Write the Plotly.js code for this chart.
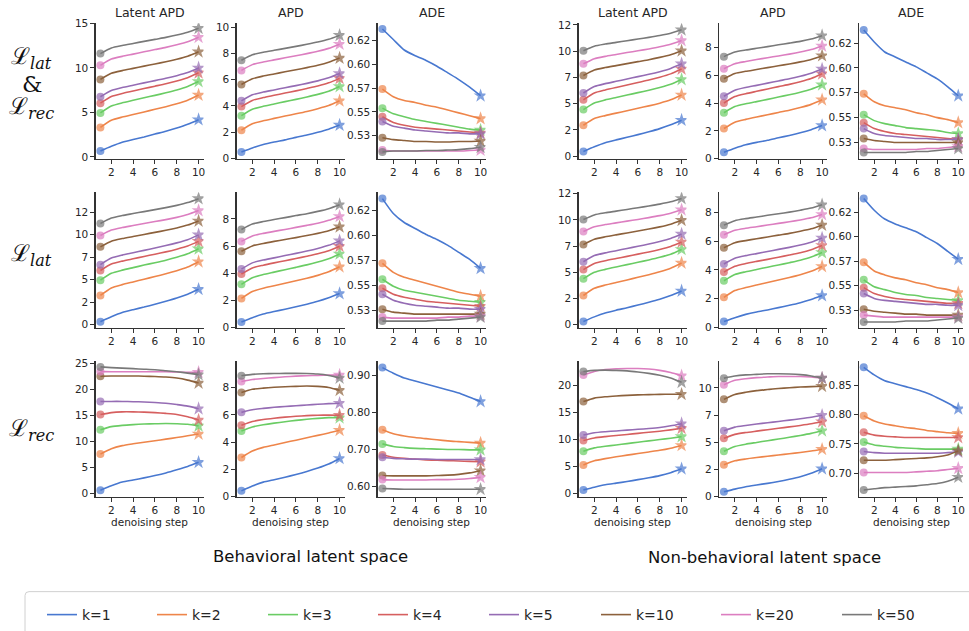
<!DOCTYPE html>
<html><head><meta charset="utf-8">
<script src="https://cdn.plot.ly/plotly-3.0.1.min.js"></script>
<style>html,body{margin:0;padding:0;background:#fff}#chart{width:969px;height:631px}</style>
</head><body><div id="chart"></div>
<script>
const steps = [1,2,3,4,5,6,7,8,9,10];
const kLabels = ['k=1','k=2','k=3','k=4','k=5','k=10','k=20','k=50'];
const colTitles = ['Latent APD','APD','ADE','Latent APD','APD','ADE'];
const groupTitles = ['Behavioral latent space','Non-behavioral latent space'];

// Row 1: L_lat & L_rec
const behLatAPD_LL = [
 [0.65,1.18,1.64,1.96,2.24,2.56,2.87,3.23,3.65,4.18],
 [3.31,4.11,4.47,4.76,5.05,5.34,5.63,5.96,6.36,6.94],
 [4.94,5.71,6.07,6.35,6.63,6.91,7.19,7.51,7.90,8.46],
 [6.03,6.78,7.12,7.39,7.67,7.94,8.21,8.52,8.89,9.44],
 [6.75,7.46,7.79,8.05,8.31,8.56,8.82,9.12,9.47,9.99],
 [8.70,9.38,9.69,9.94,10.19,10.44,10.68,10.96,11.30,11.80],
 [10.28,10.98,11.29,11.54,11.80,12.05,12.30,12.59,12.93,13.44],
 [11.60,12.23,12.51,12.74,12.97,13.20,13.42,13.68,14.00,14.45]];
const behAPD_LL = [
 [0.49,0.80,1.06,1.25,1.41,1.60,1.78,1.99,2.23,2.54],
 [2.15,2.64,2.87,3.05,3.23,3.40,3.58,3.79,4.03,4.39],
 [3.26,3.75,3.97,4.15,4.33,4.50,4.68,4.88,5.12,5.48],
 [3.95,4.42,4.64,4.81,4.98,5.15,5.33,5.52,5.76,6.10],
 [4.39,4.85,5.06,5.22,5.39,5.55,5.72,5.91,6.14,6.47],
 [5.63,6.07,6.28,6.44,6.60,6.76,6.92,7.10,7.33,7.65],
 [6.71,7.15,7.35,7.51,7.67,7.83,7.99,8.17,8.39,8.71],
 [7.48,7.90,8.09,8.24,8.39,8.54,8.70,8.87,9.08,9.38]];
const behADE_LL = [
 [0.637,0.626,0.615,0.609,0.604,0.598,0.591,0.584,0.576,0.567],
 [0.574,0.566,0.562,0.560,0.557,0.555,0.552,0.549,0.546,0.543],
 [0.554,0.548,0.545,0.542,0.540,0.538,0.536,0.534,0.532,0.531],
 [0.545,0.539,0.536,0.534,0.533,0.532,0.531,0.530,0.529,0.528],
 [0.540,0.535,0.533,0.531,0.530,0.529,0.528,0.528,0.527,0.527],
 [0.523,0.521,0.520,0.519,0.519,0.5185,0.5185,0.519,0.519,0.5195],
 [0.510,0.509,0.509,0.509,0.509,0.509,0.509,0.509,0.5095,0.510],
 [0.508,0.509,0.509,0.509,0.5095,0.5095,0.510,0.5105,0.5115,0.513]];
const nbLatAPD_LL = [
 [0.44,0.89,1.28,1.55,1.79,2.05,2.32,2.62,2.98,3.43],
 [2.94,3.58,3.86,4.10,4.33,4.56,4.79,5.05,5.37,5.83],
 [4.44,5.07,5.36,5.59,5.82,6.05,6.28,6.54,6.85,7.31],
 [5.37,6.02,6.31,6.55,6.78,7.02,7.25,7.52,7.84,8.31],
 [6.02,6.63,6.91,7.13,7.35,7.58,7.80,8.05,8.36,8.80],
 [7.69,8.21,8.44,8.63,8.82,9.01,9.19,9.41,9.66,10.04],
 [8.80,9.29,9.51,9.69,9.87,10.04,10.22,10.42,10.66,11.02],
 [10.04,10.48,10.68,10.84,11.00,11.16,11.32,11.50,11.72,12.04]];
const nbAPD_LL = [
 [0.46,0.75,1.00,1.17,1.32,1.50,1.67,1.86,2.09,2.38],
 [2.17,2.63,2.83,3.00,3.16,3.33,3.49,3.68,3.91,4.24],
 [3.31,3.75,3.95,4.11,4.27,4.44,4.60,4.78,5.00,5.32],
 [4.01,4.47,4.68,4.85,5.02,5.19,5.35,5.54,5.77,6.11],
 [4.50,4.93,5.13,5.28,5.44,5.60,5.75,5.93,6.15,6.46],
 [5.76,6.13,6.29,6.42,6.56,6.69,6.82,6.97,7.15,7.42],
 [6.48,6.84,7.00,7.14,7.27,7.40,7.53,7.68,7.86,8.12],
 [7.35,7.68,7.83,7.95,8.07,8.20,8.32,8.45,8.62,8.86]];
const nbADE_LL = [
 [0.638,0.626,0.616,0.611,0.606,0.601,0.595,0.589,0.581,0.572],
 [0.574,0.566,0.562,0.560,0.558,0.555,0.553,0.550,0.548,0.545],
 [0.553,0.547,0.544,0.542,0.540,0.539,0.538,0.537,0.535,0.534],
 [0.545,0.539,0.536,0.534,0.533,0.532,0.531,0.530,0.529,0.528],
 [0.539,0.534,0.532,0.531,0.530,0.529,0.529,0.528,0.528,0.528],
 [0.529,0.527,0.526,0.525,0.525,0.525,0.525,0.525,0.525,0.525],
 [0.519,0.518,0.518,0.518,0.518,0.518,0.519,0.519,0.520,0.521],
 [0.515,0.515,0.515,0.515,0.515,0.516,0.516,0.517,0.518,0.519]];

// Row 2: L_lat
const behLatAPD_L = [
 [0.32,0.86,1.33,1.65,1.94,2.26,2.59,2.95,3.38,3.92],
 [3.24,4.07,4.44,4.74,5.04,5.34,5.64,5.98,6.39,6.99],
 [4.93,5.70,6.05,6.33,6.61,6.88,7.16,7.48,7.86,8.42],
 [6.01,6.72,7.05,7.31,7.57,7.82,8.08,8.38,8.73,9.25],
 [6.66,7.39,7.72,7.98,8.25,8.51,8.78,9.08,9.44,9.97],
 [8.64,9.27,9.56,9.79,10.02,10.25,10.48,10.74,11.06,11.52],
 [9.90,10.51,10.79,11.01,11.23,11.45,11.67,11.92,12.23,12.67],
 [11.23,11.84,12.12,12.34,12.56,12.78,13.00,13.25,13.56,14.00]];
const behAPD_L = [
 [0.41,0.73,1.00,1.19,1.36,1.54,1.73,1.94,2.20,2.51],
 [2.15,2.66,2.90,3.08,3.27,3.45,3.64,3.85,4.11,4.48],
 [3.19,3.68,3.91,4.09,4.27,4.44,4.62,4.83,5.07,5.43],
 [3.95,4.40,4.60,4.77,4.93,5.09,5.26,5.44,5.66,5.99],
 [4.31,4.77,4.98,5.14,5.31,5.47,5.64,5.83,6.06,6.39],
 [5.63,6.02,6.20,6.35,6.49,6.63,6.78,6.94,7.13,7.42],
 [6.35,6.75,6.94,7.09,7.23,7.38,7.53,7.69,7.90,8.19],
 [7.23,7.63,7.81,7.96,8.10,8.25,8.39,8.56,8.76,9.05]];
const behADE_L = [
 [0.637,0.622,0.613,0.607,0.601,0.596,0.590,0.583,0.576,0.567],
 [0.572,0.563,0.558,0.555,0.552,0.549,0.546,0.543,0.541,0.539],
 [0.556,0.549,0.545,0.543,0.541,0.539,0.537,0.535,0.534,0.533],
 [0.547,0.541,0.538,0.536,0.534,0.533,0.532,0.531,0.530,0.529],
 [0.541,0.535,0.532,0.530,0.529,0.528,0.527,0.527,0.526,0.526],
 [0.526,0.523,0.522,0.521,0.521,0.521,0.521,0.521,0.521,0.521],
 [0.518,0.517,0.517,0.517,0.517,0.517,0.518,0.518,0.519,0.519],
 [0.514,0.514,0.514,0.514,0.514,0.515,0.515,0.516,0.517,0.518]];
const nbLatAPD_L = [
 [0.31,0.75,1.12,1.39,1.62,1.88,2.14,2.43,2.78,3.22],
 [2.79,3.47,3.78,4.03,4.27,4.52,4.77,5.05,5.39,5.88],
 [4.39,5.00,5.28,5.51,5.73,5.95,6.18,6.43,6.73,7.18],
 [5.26,5.84,6.10,6.31,6.52,6.73,6.94,7.18,7.47,7.89],
 [6.01,6.59,6.85,7.06,7.27,7.48,7.69,7.93,8.22,8.64],
 [7.64,8.15,8.38,8.57,8.75,8.94,9.12,9.33,9.59,9.96],
 [8.88,9.34,9.55,9.71,9.88,10.04,10.21,10.40,10.63,10.96],
 [10.03,10.47,10.67,10.83,10.99,11.16,11.32,11.50,11.72,12.04]];
const nbAPD_L = [
 [0.42,0.69,0.92,1.09,1.23,1.39,1.55,1.73,1.95,2.22],
 [2.10,2.57,2.78,2.96,3.13,3.30,3.47,3.66,3.90,4.24],
 [3.25,3.68,3.87,4.03,4.19,4.34,4.50,4.67,4.89,5.20],
 [3.85,4.25,4.44,4.59,4.73,4.88,5.03,5.19,5.40,5.69],
 [4.41,4.81,4.99,5.13,5.27,5.42,5.56,5.72,5.92,6.21],
 [5.53,5.88,6.03,6.16,6.28,6.41,6.53,6.68,6.85,7.10],
 [6.43,6.74,6.88,6.99,7.11,7.22,7.33,7.46,7.61,7.84],
 [7.10,7.41,7.55,7.66,7.78,7.89,8.00,8.13,8.28,8.51]];
const nbADE_L = [
 [0.639,0.627,0.618,0.613,0.609,0.605,0.599,0.593,0.585,0.577],
 [0.574,0.565,0.561,0.558,0.556,0.553,0.551,0.548,0.546,0.543],
 [0.556,0.549,0.546,0.543,0.541,0.540,0.538,0.537,0.536,0.535],
 [0.548,0.542,0.539,0.537,0.536,0.535,0.534,0.533,0.532,0.532],
 [0.542,0.537,0.535,0.534,0.533,0.532,0.531,0.531,0.530,0.530],
 [0.526,0.524,0.523,0.522,0.521,0.521,0.520,0.520,0.520,0.520],
 [0.520,0.519,0.518,0.518,0.518,0.518,0.518,0.518,0.518,0.518],
 [0.513,0.513,0.513,0.513,0.514,0.514,0.514,0.515,0.516,0.517]];

// Row 3: L_rec
const behLatAPD_R = [
 [0.64,1.50,2.20,2.60,3.00,3.45,3.95,4.55,5.20,6.00],
 [7.57,8.60,9.20,9.55,9.85,10.15,10.45,10.75,11.10,11.43],
 [12.25,12.85,13.10,13.25,13.35,13.40,13.45,13.40,13.30,13.00],
 [15.17,15.55,15.70,15.70,15.65,15.55,15.40,15.20,14.75,14.12],
 [17.68,17.70,17.70,17.65,17.60,17.50,17.35,17.10,16.80,16.30],
 [22.55,22.60,22.60,22.60,22.55,22.50,22.40,22.20,21.80,21.24],
 [23.48,23.40,23.40,23.40,23.40,23.40,23.40,23.35,23.30,23.30],
 [24.34,24.20,24.10,24.00,23.90,23.80,23.60,23.40,23.15,22.85]];
const behAPD_R = [
 [0.43,0.78,1.07,1.25,1.43,1.63,1.85,2.10,2.40,2.81],
 [2.88,3.35,3.62,3.80,3.98,4.15,4.33,4.50,4.68,4.88],
 [4.83,5.12,5.28,5.40,5.50,5.60,5.68,5.75,5.80,5.79],
 [5.24,5.52,5.66,5.76,5.84,5.90,5.95,5.98,5.99,5.98],
 [6.19,6.38,6.48,6.56,6.62,6.68,6.73,6.78,6.83,6.86],
 [7.64,7.88,7.97,8.03,8.07,8.10,8.12,8.10,8.02,7.81],
 [8.45,8.60,8.68,8.74,8.80,8.85,8.88,8.90,8.92,8.93],
 [8.88,8.98,9.02,9.04,9.05,9.05,9.04,9.00,8.90,8.71]];
const behADE_R = [
 [0.920,0.905,0.892,0.884,0.876,0.868,0.860,0.852,0.840,0.829],
 [0.753,0.742,0.736,0.732,0.729,0.726,0.723,0.721,0.719,0.717],
 [0.715,0.708,0.705,0.703,0.702,0.701,0.700,0.700,0.699,0.699],
 [0.685,0.679,0.676,0.674,0.672,0.671,0.670,0.669,0.668,0.667],
 [0.679,0.676,0.675,0.674,0.674,0.673,0.673,0.673,0.673,0.673],
 [0.630,0.629,0.629,0.629,0.629,0.630,0.631,0.633,0.637,0.643],
 [0.619,0.618,0.618,0.618,0.618,0.619,0.619,0.620,0.622,0.625],
 [0.595,0.594,0.593,0.593,0.593,0.593,0.593,0.593,0.593,0.593]];
const nbLatAPD_R = [
 [0.60,1.10,1.55,1.85,2.15,2.50,2.85,3.25,3.80,4.52],
 [5.24,6.00,6.40,6.75,7.05,7.35,7.65,7.95,8.35,8.86],
 [7.78,8.40,8.70,8.95,9.20,9.45,9.70,9.95,10.20,10.49],
 [9.76,10.25,10.50,10.70,10.90,11.10,11.30,11.50,11.75,12.04],
 [10.78,11.20,11.40,11.55,11.70,11.85,12.00,12.20,12.50,12.89],
 [17.00,17.65,17.90,18.05,18.15,18.25,18.30,18.35,18.37,18.37],
 [21.93,22.60,22.95,23.10,23.15,23.15,23.05,22.80,22.40,21.80],
 [22.60,22.80,22.85,22.80,22.70,22.50,22.25,21.90,21.40,20.60]];
const nbAPD_R = [
 [0.45,0.70,0.92,1.08,1.23,1.40,1.60,1.83,2.15,2.57],
 [2.93,3.30,3.47,3.60,3.72,3.83,3.95,4.07,4.20,4.36],
 [4.18,4.62,4.83,4.99,5.15,5.30,5.46,5.63,5.82,6.06],
 [5.37,5.73,5.90,6.03,6.16,6.29,6.42,6.55,6.70,6.89],
 [6.06,6.40,6.55,6.68,6.80,6.92,7.04,7.17,7.31,7.49],
 [8.95,9.40,9.60,9.75,9.85,9.95,10.02,10.08,10.12,10.15],
 [10.30,10.70,10.85,10.95,11.00,11.05,11.05,11.05,11.00,10.90],
 [10.90,11.10,11.20,11.25,11.30,11.30,11.28,11.22,11.10,10.90]];
const nbADE_R = [
 [0.881,0.868,0.858,0.853,0.848,0.843,0.837,0.829,0.820,0.810],
 [0.798,0.789,0.784,0.781,0.778,0.776,0.773,0.771,0.769,0.768],
 [0.753,0.748,0.746,0.744,0.743,0.742,0.741,0.741,0.741,0.741],
 [0.770,0.765,0.763,0.762,0.761,0.761,0.761,0.761,0.761,0.761],
 [0.737,0.735,0.734,0.734,0.734,0.734,0.734,0.734,0.735,0.736],
 [0.722,0.722,0.722,0.723,0.724,0.725,0.726,0.728,0.731,0.738],
 [0.701,0.701,0.701,0.701,0.701,0.702,0.703,0.704,0.706,0.708],
 [0.671,0.673,0.675,0.676,0.677,0.678,0.680,0.682,0.686,0.693]];

// Tick values / labels
const xTicks = [2,4,6,8,10];
const ticks0to15 = [0,5,10,15];
const ticks0to10by2 = [0,2,4,6,8,10];
const ticks0to8by2 = [0,2,4,6,8];
const ticksHalf = [0,2.5,5,7.5,10,12.5];
const ticksHalfText = ['0','2','5','7','10','12'];
const ticksHalf10 = [0,2.5,5,7.5,10];
const ticksHalf10Text = ['0','2','5','7','10'];
const ticksADEsmall = [0.525,0.55,0.575,0.6,0.625];
const ticksADEsmallText = ['0.53','0.55','0.57','0.60','0.62'];
const ticks0to25 = [0,5,10,15,20,25];
const ticks0to20 = [0,5,10,15,20];
const ticksADEbehRec = [0.6,0.7,0.8,0.9];
const ticksADEbehRecText = ['0.60','0.70','0.80','0.90'];
const ticksADEnbRec = [0.7,0.75,0.8,0.85];
const ticksADEnbRecText = ['0.70','0.75','0.80','0.85'];

const panelData = [
 [behLatAPD_LL, behAPD_LL, behADE_LL, nbLatAPD_LL, nbAPD_LL, nbADE_LL],
 [behLatAPD_L, behAPD_L, behADE_L, nbLatAPD_L, nbAPD_L, nbADE_L],
 [behLatAPD_R, behAPD_R, behADE_R, nbLatAPD_R, nbAPD_R, nbADE_R]];
const panelTicks = [
 [[ticks0to15,null],[ticks0to10by2,null],[ticksADEsmall,ticksADEsmallText],[ticksHalf,ticksHalfText],[ticks0to8by2,null],[ticksADEsmall,ticksADEsmallText]],
 [[ticksHalf,ticksHalfText],[ticks0to8by2,null],[ticksADEsmall,ticksADEsmallText],[ticksHalf,ticksHalfText],[ticks0to8by2,null],[ticksADEsmall,ticksADEsmallText]],
 [[ticks0to25,null],[ticks0to8by2,null],[ticksADEbehRec,ticksADEbehRecText],[ticks0to20,null],[ticksHalf10,ticksHalf10Text],[ticksADEnbRec,ticksADEnbRecText]]];

// ---- layout / style ----
const colors = ['#4878d0','#ee854a','#6acc64','#d65f5f','#956cb4','#8c613c','#dc7ec0','#797979'];
const legendWidths = [65,66,65,66,67,75,76,80];
const W = 969, H = 631;
const colL = [95.5,236.5,377.5,578.5,719,859];
const colW = [108,108,108,108,108,104];
const rowT = [24,198,372], rowH = 139.3;
const yRanges = [
 [[-0.2,15.0],[-0.02,10.3],[0.501,0.643],[-0.24,12.66],[0,9.75],[0.5088,0.6448]],
 [[-0.35,14.7],[0,9.96],[0.5074,0.6433],[-0.28,12.62],[0,9.37],[0.5072,0.6452]],
 [[-0.62,25.4],[0,9.93],[0.573,0.9367],[-0.67,24.47],[0,12.44],[0.6595,0.8912]]];
const axisColor = '#333333', textColor = '#262626';
const tickFont = {family:'DejaVu Sans', size:10.5, color:textColor};

const traces = [];
const layout = {
  width: W, height: H, margin:{l:0,r:0,t:0,b:0},
  paper_bgcolor:'#ffffff', plot_bgcolor:'#ffffff',
  font:{family:'DejaVu Sans', color:textColor},
  showlegend:true,
  legend:{orientation:'h', x:42/W, xanchor:'left', y:1-617/H, yanchor:'top',
          bgcolor:'rgba(0,0,0,0)', borderwidth:0, font:{family:'DejaVu Sans', size:14, color:textColor},
          traceorder:'normal'},
  annotations:[], shapes:[]
};

for (let r=0;r<3;r++){
  for (let c=0;c<6;c++){
    const idx = r*6+c+1; const s = idx===1?'':String(idx);
    const tk = panelTicks[r][c];
    layout['xaxis'+s] = {domain:[colL[c]/W,(colL[c]+colW[c])/W], anchor:'y'+s, range:[0.55,10.45],
      tickvals:xTicks, ticks:'outside', ticklen:4, tickwidth:1, tickcolor:axisColor,
      showline:true, linecolor:axisColor, linewidth:1.1, showgrid:false, zeroline:false,
      tickfont:tickFont, fixedrange:true, ticklabeloverflow:'allow'};
    const ya = {domain:[1-(rowT[r]+rowH)/H, 1-rowT[r]/H], anchor:'x'+s, range:yRanges[r][c],
      tickvals:tk[0], ticks:'outside', ticklen:4, tickwidth:1, tickcolor:axisColor,
      showline:true, linecolor:axisColor, linewidth:1.1, showgrid:false, zeroline:false,
      tickfont:tickFont, fixedrange:true};
    if (tk[1]) ya.ticktext = tk[1];
    layout['yaxis'+s] = ya;
    const d = panelData[r][c];
    for (let k=0;k<8;k++){
      traces.push({x:steps, y:d[k], xaxis:'x'+s, yaxis:'y'+s, type:'scatter', mode:'lines',
        name:kLabels[k], legendgroup:kLabels[k], showlegend: idx===1, legendwidth:legendWidths[k],
        line:{color:colors[k], width:1.6, shape:'spline', smoothing:0.6}, hoverinfo:'skip'});
      traces.push({x:[steps[0],steps[steps.length-1]], y:[d[k][0], d[k][d[k].length-1]],
        xaxis:'x'+s, yaxis:'y'+s, type:'scatter', mode:'markers', showlegend:false,
        legendgroup:kLabels[k],
        marker:{symbol:['circle','star'], size:[8,10.5], color:colors[k], line:{width:0}}, hoverinfo:'skip'});
    }
  }
}

// column titles & x-axis titles
for (let c=0;c<6;c++){
  const cx = (colL[c]+colW[c]/2)/W;
  layout.annotations.push({text:colTitles[c], xref:'paper', yref:'paper', x:cx, y:1-13/H,
    xanchor:'center', yanchor:'middle', showarrow:false, font:{family:'DejaVu Sans', size:12.5, color:textColor}});
  layout.annotations.push({text:'denoising step', xref:'paper', yref:'paper', x:cx, y:1-537/H,
    xanchor:'center', yanchor:'middle', showarrow:false, font:{family:'DejaVu Sans', size:10.5, color:textColor}});
}
layout.annotations.push({text:groupTitles[0], xref:'paper', yref:'paper', x:310/W, y:1-573/H,
  xanchor:'center', yanchor:'middle', showarrow:false, font:{family:'DejaVu Sans', size:16.5, color:'#111'}});
layout.annotations.push({text:groupTitles[1], xref:'paper', yref:'paper', x:764/W, y:1-574/H,
  xanchor:'center', yanchor:'middle', showarrow:false, font:{family:'DejaVu Sans', size:16.5, color:'#111'}});

// row labels
const rowLabelFont = {family:'DejaVu Serif', size:23, color:'#111'};
const rowLabels = [
  ['ℒ<sub><i>lat</i></sub>', 60], ['&', 86], ['ℒ<sub><i>rec</i></sub>', 111],
  ['ℒ<sub><i>lat</i></sub>', 263], ['ℒ<sub><i>rec</i></sub>', 443]];
rowLabels.forEach(([t,y])=>{
  layout.annotations.push({text:t, xref:'paper', yref:'paper', x:32/W, y:1-y/H,
    xanchor:'center', yanchor:'middle', showarrow:false, font:rowLabelFont});
});

// legend frame
const lx0 = 25/W, lx1 = 1.02, ly0 = 1-609/H, ly1 = -0.05, rx = 4/W, ry = 4/H;
layout.shapes.push({type:'path', xref:'paper', yref:'paper',
  path:`M ${lx0},${ly1} L ${lx0},${ly0-ry} Q ${lx0},${ly0} ${lx0+rx},${ly0} L ${lx1},${ly0}`,
  line:{color:'#d0d0d0', width:1}, fillcolor:'rgba(0,0,0,0)'});

Plotly.newPlot('chart', traces, layout, {staticPlot:true, displayModeBar:false});
</script></body></html>
